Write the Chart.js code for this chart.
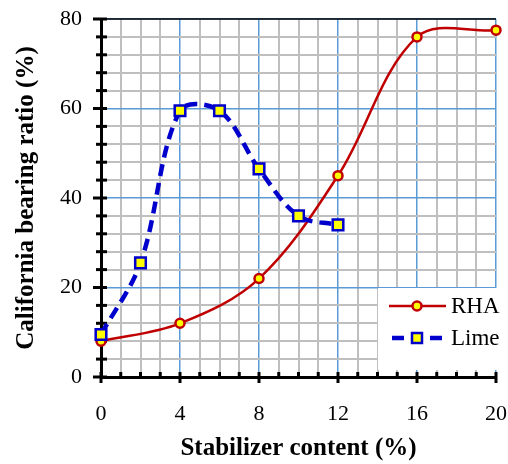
<!DOCTYPE html>
<html>
<head>
<meta charset="utf-8">
<script src="https://cdn.jsdelivr.net/npm/chart.js@4.4.0/dist/chart.umd.min.js"></script>
<style>
  html, body { margin: 0; padding: 0; background: #fff; }
</style>
</head>
<body>
<canvas id="cbrChart" width="508" height="464"></canvas>
<script>
// datos
const rhaContent = [0, 4, 8, 12, 16, 20];
const rhaCbr = [8, 12, 22, 45, 76, 77.5];
const limeContent = [0, 2, 4, 6, 8, 10, 12];
const limeCbr = [9.5, 25.5, 59.5, 59.5, 46.5, 36, 34];
const xTickLabels = [0, 4, 8, 12, 16, 20];
const yTickLabels = [0, 20, 40, 60, 80];

const RED = '#c00000';
const BLUE = '#0000cc';
const GRID_MAJOR = '#5b9bd5';
const GRID_MINOR = '#bfbfbf';
const FONT = "'Liberation Serif', 'Times New Roman', serif";

function drawMarker(ctx, shape, x, y, stroke) {
    ctx.fillStyle = '#ffff00';
    ctx.strokeStyle = stroke;
    ctx.lineWidth = 2.5;
    ctx.setLineDash([]);
    ctx.beginPath();
    if (shape === 'rect') {
        ctx.rect(x - 5, y - 5, 10, 10);
    } else {
        ctx.arc(x, y, 4.5, 0, Math.PI * 2);
    }
    ctx.fill();
    ctx.stroke();
}

const frame = {
    id: 'frame',
    beforeDatasetsDraw(chart) {
        const { ctx, chartArea: a, scales: { x, y } } = chart;
        ctx.save();
        ctx.strokeStyle = '#000';
        ctx.lineWidth = 1.5;
        ctx.beginPath();
        ctx.moveTo(a.left, a.top);
        ctx.lineTo(a.right, a.top);
        ctx.stroke();

        // marcas de los ejes
        ctx.lineWidth = 3;
        for (let v = 0; v <= 20; v++) {
            const px = x.getPixelForValue(v);
            const major = xTickLabels.includes(v);
            ctx.beginPath();
            ctx.moveTo(px, a.bottom - 5);
            ctx.lineTo(px, a.bottom + (major ? 6 : 0));
            ctx.stroke();
        }
        for (let v = 0; v <= 80; v += 4) {
            const py = y.getPixelForValue(v);
            const major = yTickLabels.includes(v);
            ctx.beginPath();
            ctx.moveTo(a.left + 6, py);
            ctx.lineTo(a.left - (major ? 8 : 5), py);
            ctx.stroke();
        }
        ctx.restore();
    },
    afterDatasetsDraw(chart) {
        const { ctx } = chart;
        ctx.save();
        ctx.fillStyle = '#fff';
        ctx.fillRect(378, 288, 130, 82);

        const rows = [
            { label: 'RHA', color: RED, shape: 'circle', dash: [], width: 2.5, y: 306 },
            { label: 'Lime', color: BLUE, shape: 'rect', dash: [12, 7], width: 4.5, y: 338 }
        ];
        rows.forEach(r => {
            ctx.strokeStyle = r.color;
            ctx.lineWidth = r.width;
            ctx.setLineDash(r.dash);
            ctx.lineDashOffset = r.dash.length ? -3 : 0;
            ctx.beginPath();
            ctx.moveTo(389, r.y);
            ctx.lineTo(446, r.y);
            ctx.stroke();
            drawMarker(ctx, r.shape, 417, r.y, r.color);
            ctx.fillStyle = '#000';
            ctx.font = '23px ' + FONT;
            ctx.textBaseline = 'middle';
            ctx.fillText(r.label, 451, r.y + 1);
        });
        ctx.restore();
    }
};

const ctx = document.getElementById('cbrChart').getContext('2d');

new Chart(ctx, {
    type: 'line',
    data: {
        datasets: [
            {
                label: 'Lime',
                data: limeContent.map((c, i) => ({ x: c, y: limeCbr[i] })),
                borderColor: BLUE,
                borderWidth: 4.5,
                borderDash: [12, 7],
                tension: 0.35,
                pointStyle: 'rect',
                pointRadius: 7.5,
                pointBorderWidth: 2.5,
                pointBackgroundColor: '#ffff00',
                pointBorderColor: BLUE,
                clip: false
            },
            {
                label: 'RHA',
                data: rhaContent.map((c, i) => ({ x: c, y: rhaCbr[i] })),
                borderColor: RED,
                borderWidth: 2.5,
                tension: 0.35,
                pointStyle: 'circle',
                pointRadius: 4.5,
                pointBorderWidth: 2.5,
                pointBackgroundColor: '#ffff00',
                pointBorderColor: RED,
                clip: false
            }
        ]
    },
    options: {
        responsive: false,
        animation: false,
        layout: { padding: { left: 0, right: 12, top: 19, bottom: 0 } },
        plugins: { legend: { display: false }, tooltip: { enabled: false } },
        scales: {
            x: {
                type: 'linear',
                min: 0,
                max: 20,
                afterFit: s => { s.height = 87; s.paddingLeft = 0; s.paddingRight = 0; },
                border: { color: '#000', width: 3 },
                grid: {
                    drawTicks: false,
                    color: c => (c.tick && xTickLabels.includes(c.tick.value)) ? GRID_MAJOR : GRID_MINOR,
                    lineWidth: c => (c.tick && xTickLabels.includes(c.tick.value)) ? 1.5 : 2
                },
                ticks: {
                    stepSize: 1,
                    autoSkip: false,
                    maxRotation: 0,
                    padding: 24,
                    color: '#000',
                    font: { family: FONT, size: 22 },
                    callback: v => xTickLabels.includes(v) ? String(v) : ''
                },
                title: {
                    display: true,
                    text: 'Stabilizer content (%)',
                    color: '#000',
                    font: { family: FONT, size: 25, weight: 'bold' },
                    padding: { top: 0, bottom: 0 }
                }
            },
            y: {
                min: 0,
                max: 80,
                afterFit: s => { s.width = 101; s.paddingTop = 0; s.paddingBottom = 0; },
                border: { color: '#000', width: 3 },
                grid: {
                    drawTicks: false,
                    color: c => (c.tick && yTickLabels.includes(c.tick.value)) ? GRID_MAJOR : GRID_MINOR,
                    lineWidth: c => (c.tick && yTickLabels.includes(c.tick.value)) ? 1.5 : 2
                },
                ticks: {
                    stepSize: 4,
                    autoSkip: false,
                    padding: 19,
                    color: '#000',
                    font: { family: FONT, size: 22 },
                    callback: v => yTickLabels.includes(v) ? String(v) : ''
                },
                title: {
                    display: true,
                    text: 'California bearing ratio (%)',
                    color: '#000',
                    font: { family: FONT, size: 25, weight: 'bold' },
                    padding: { top: 12, bottom: 0 }
                }
            }
        }
    },
    plugins: [frame]
});
</script>
</body>
</html>
